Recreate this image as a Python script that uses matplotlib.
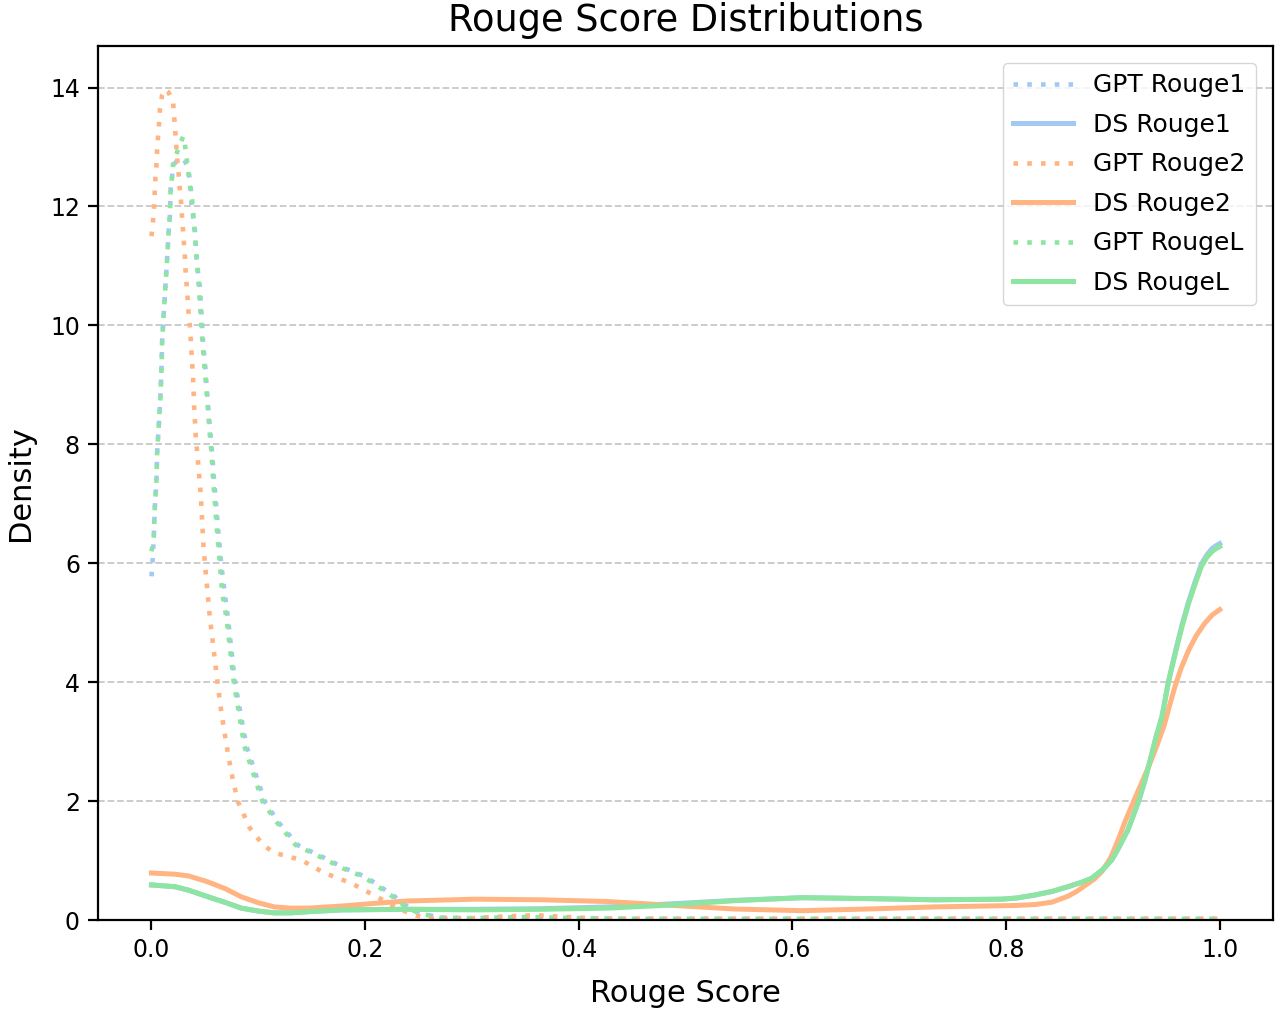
import matplotlib
matplotlib.use("Agg")
import matplotlib.pyplot as plt

# colours (seaborn pastel)
c_blue = '#a1c9f4'
c_orange = '#ffb482'
c_green = '#8de5a1'

# GPT Rouge1 (dotted blue)
gpt_r1_x = [0.0, 0.001, 0.0022, 0.0031, 0.0047, 0.0053, 0.0069, 0.0084, 0.0094, 0.010, 0.0115,
            0.0131, 0.0147, 0.0162, 0.0172, 0.018, 0.0194, 0.0203, 0.025, 0.0303, 0.0343, 0.0368,
            0.0375, 0.039, 0.0406, 0.0421, 0.0437, 0.0452, 0.0468, 0.0484, 0.0506, 0.0524, 0.0546,
            0.0568, 0.0587, 0.0609, 0.063, 0.0655, 0.0702, 0.0718, 0.078, 0.089, 0.106, 0.1186,
            0.137, 0.159, 0.181, 0.20, 0.212, 0.228, 0.24, 0.253, 0.27, 0.30, 0.35, 0.40, 0.45,
            0.5, 0.6, 0.7, 0.8, 0.9, 1.0]
gpt_r1_y = [5.78, 6.02, 6.45, 6.93, 7.4, 7.85, 8.33, 8.8, 9.28, 9.73, 10.21,
            10.66, 11.13, 11.61, 11.83, 12.31, 12.51, 12.7, 12.78, 12.8, 12.65, 12.34,
            12.03, 11.83, 11.61, 11.16, 10.88, 10.66, 10.21, 9.7, 9.25, 8.78, 8.3,
            7.85, 7.38, 6.9, 6.45, 5.95, 5.27, 5.05, 4.01, 2.92, 1.99, 1.65,
            1.26, 1.07, 0.87, 0.73, 0.59, 0.39, 0.22, 0.11, 0.04, 0.03, 0.05, 0.03, 0.02,
            0.02, 0.02, 0.02, 0.02, 0.02, 0.02]

# DS Rouge1 (solid blue)
ds_r1_x = [0.0, 0.022, 0.035, 0.053, 0.07, 0.084, 0.1, 0.115, 0.13, 0.147, 0.178, 0.24, 0.303,
           0.365, 0.428, 0.484, 0.546, 0.609, 0.671, 0.733, 0.796, 0.81, 0.827, 0.843, 0.858,
           0.87, 0.88, 0.89, 0.899, 0.905, 0.914, 0.919, 0.924, 0.93, 0.935, 0.94, 0.946,
           0.952, 0.956, 0.96, 0.965, 0.971, 0.977, 0.983, 0.988, 0.993, 0.997, 1.0]
ds_r1_y = [0.59, 0.56, 0.5, 0.39, 0.29, 0.2, 0.15, 0.12, 0.12, 0.14, 0.17, 0.18, 0.18,
           0.19, 0.22, 0.27, 0.33, 0.375, 0.36, 0.34, 0.35, 0.37, 0.42, 0.48, 0.56,
           0.63, 0.7, 0.84, 1.01, 1.2, 1.51, 1.75, 1.99, 2.35, 2.69, 3.05, 3.42,
           4.0, 4.32, 4.62, 4.98, 5.36, 5.69, 5.99, 6.14, 6.25, 6.3, 6.33]

# GPT Rouge2 (dotted orange)
gpt_r2_x = [0.0, 0.0016, 0.0025, 0.0031, 0.0037, 0.0047, 0.0053, 0.0062, 0.0072, 0.008, 0.010,
            0.0125, 0.016, 0.0203, 0.0212, 0.0222, 0.0231, 0.024, 0.0253, 0.0262, 0.0275, 0.0284,
            0.0293, 0.0303, 0.0312, 0.0318, 0.0328, 0.0337, 0.0346, 0.0359, 0.0368, 0.0375, 0.039,
            0.040, 0.0415, 0.0437, 0.0459, 0.0474, 0.0487, 0.0509, 0.053, 0.0546, 0.0618, 0.0655,
            0.0718, 0.0765, 0.081, 0.092, 0.1046, 0.115, 0.140, 0.162, 0.187, 0.211, 0.228,
            0.246, 0.26, 0.28, 0.30, 0.33, 0.36, 0.39, 0.42, 0.5, 0.6, 0.7, 0.8, 0.9, 1.0]
gpt_r2_y = [11.5, 11.78, 12.01, 12.26, 12.48, 12.71, 12.96, 13.18, 13.42, 13.64, 13.88,
            13.97, 13.92, 13.75, 13.52, 13.29, 13.05, 12.82, 12.58, 12.35, 12.13, 11.89,
            11.65, 11.41, 11.19, 10.95, 10.71, 10.49, 10.25, 10.01, 9.76, 9.54, 9.09,
            8.61, 8.13, 7.68, 7.21, 6.73, 6.28, 5.83, 5.41, 5.1, 4.0, 3.48,
            2.78, 2.33, 1.99, 1.55, 1.26, 1.13, 1.01, 0.79, 0.62, 0.39, 0.22,
            0.08, 0.03, 0.02, 0.03, 0.06, 0.08, 0.05, 0.02, 0.02, 0.02, 0.02, 0.02, 0.02, 0.02]

# DS Rouge2 (solid orange)
ds_r2_x = [0.0, 0.022, 0.035, 0.053, 0.07, 0.084, 0.1, 0.115, 0.13, 0.147, 0.178, 0.209, 0.24,
           0.303, 0.365, 0.428, 0.484, 0.546, 0.609, 0.671, 0.733, 0.796, 0.81, 0.827, 0.843,
           0.858, 0.866, 0.874, 0.882, 0.89, 0.898, 0.905, 0.912, 0.92, 0.928, 0.936, 0.942,
           0.948, 0.953, 0.958, 0.964, 0.971, 0.978, 0.986, 0.993, 1.0]
ds_r2_y = [0.79, 0.77, 0.74, 0.64, 0.52, 0.39, 0.29, 0.22, 0.2, 0.2, 0.235, 0.28, 0.32,
           0.35, 0.34, 0.31, 0.25, 0.185, 0.157, 0.185, 0.22, 0.24, 0.245, 0.26, 0.3,
           0.4, 0.48, 0.58, 0.68, 0.82, 1.05, 1.35, 1.68, 2.02, 2.35, 2.69, 2.97,
           3.27, 3.6, 3.92, 4.24, 4.54, 4.78, 4.99, 5.13, 5.22]

# GPT RougeL (dotted green)
gpt_rl_x = [0.0, 0.001, 0.0022, 0.0031, 0.0047, 0.0053, 0.0069, 0.0084, 0.0094, 0.010, 0.0115,
            0.0131, 0.0147, 0.0162, 0.0172, 0.018, 0.0194, 0.0203, 0.025, 0.0297, 0.0312, 0.0328,
            0.0359, 0.0381, 0.0412, 0.0443, 0.0468, 0.0478, 0.0499, 0.0521, 0.054, 0.0562, 0.0578,
            0.0599, 0.0618, 0.064, 0.0662, 0.0705, 0.077, 0.087, 0.104, 0.117, 0.135, 0.157,
            0.179, 0.198, 0.21, 0.226, 0.238, 0.251, 0.27, 0.30, 0.35, 0.40, 0.45, 0.5, 0.6,
            0.7, 0.8, 0.9, 1.0]
gpt_rl_y = [6.2, 6.3, 6.45, 6.93, 7.4, 7.85, 8.33, 8.8, 9.28, 9.73, 10.21,
            10.66, 11.13, 11.61, 11.83, 12.31, 12.51, 12.74, 12.96, 13.18, 13.06, 12.83,
            12.37, 12.11, 11.39, 10.66, 9.98, 9.7, 9.25, 8.78, 8.3, 7.85, 7.38,
            6.9, 6.45, 6.0, 5.5, 5.05, 4.01, 2.92, 1.99, 1.65, 1.26, 1.07,
            0.87, 0.73, 0.59, 0.39, 0.22, 0.11, 0.04, 0.03, 0.05, 0.03, 0.02, 0.02, 0.02,
            0.02, 0.02, 0.02, 0.02]

# DS RougeL (solid green)
ds_rl_x = [0.0, 0.022, 0.035, 0.053, 0.07, 0.084, 0.1, 0.115, 0.13, 0.147, 0.178, 0.24, 0.303,
           0.365, 0.428, 0.484, 0.546, 0.609, 0.671, 0.733, 0.796, 0.81, 0.827, 0.843, 0.858,
           0.87, 0.88, 0.89, 0.899, 0.905, 0.914, 0.919, 0.924, 0.93, 0.935, 0.94, 0.946,
           0.952, 0.956, 0.96, 0.965, 0.971, 0.977, 0.983, 0.988, 0.993, 0.997, 1.0]
ds_rl_y = [0.59, 0.56, 0.5, 0.39, 0.29, 0.2, 0.15, 0.12, 0.12, 0.14, 0.17, 0.18, 0.17,
           0.18, 0.2, 0.25, 0.325, 0.375, 0.36, 0.34, 0.35, 0.37, 0.42, 0.48, 0.56,
           0.63, 0.7, 0.84, 1.01, 1.2, 1.51, 1.75, 1.99, 2.35, 2.69, 3.05, 3.42,
           4.0, 4.3, 4.6, 4.95, 5.33, 5.65, 5.95, 6.1, 6.2, 6.25, 6.28]

dot = (0, (1, 2))

fig = plt.figure(figsize=(12.8, 10.14), dpi=100)
ax = fig.add_axes([0.0766, 0.0927, 0.918, 0.862])

ax.plot(gpt_r1_x, gpt_r1_y, color=c_blue, linestyle=dot, linewidth=3.3, label='GPT Rouge1')
ax.plot(ds_r1_x, ds_r1_y, color=c_blue, linewidth=3.6, label='DS Rouge1')
ax.plot(gpt_r2_x, gpt_r2_y, color=c_orange, linestyle=dot, linewidth=3.3, label='GPT Rouge2')
ax.plot(ds_r2_x, ds_r2_y, color=c_orange, linewidth=3.6, label='DS Rouge2')
ax.plot(gpt_rl_x, gpt_rl_y, color=c_green, linestyle=dot, linewidth=3.3, label='GPT RougeL')
ax.plot(ds_rl_x, ds_rl_y, color=c_green, linewidth=3.6, label='DS RougeL')

ax.set_xlim(-0.05, 1.05)
ax.set_ylim(0, 14.7)
ax.set_xticks([0.0, 0.2, 0.4, 0.6, 0.8, 1.0])
ax.set_yticks([0, 2, 4, 6, 8, 10, 12, 14])
ax.yaxis.grid(True, linestyle='--', color='#bbbbbb', alpha=0.8, linewidth=1.3)
ax.set_axisbelow(True)

ax.tick_params(labelsize=17, length=7, width=1.6, pad=6)
for s in ax.spines.values():
    s.set_linewidth(1.6)

ax.set_title('Rouge Score Distributions', fontsize=26.5, pad=11)
ax.set_xlabel('Rouge Score', fontsize=22, labelpad=12)
ax.set_ylabel('Density', fontsize=22, labelpad=11)

ax.legend(loc='upper right', fontsize=18, handlelength=2.4, labelspacing=0.62,
          borderaxespad=0.7)

fig.savefig('out.png', dpi=100)
